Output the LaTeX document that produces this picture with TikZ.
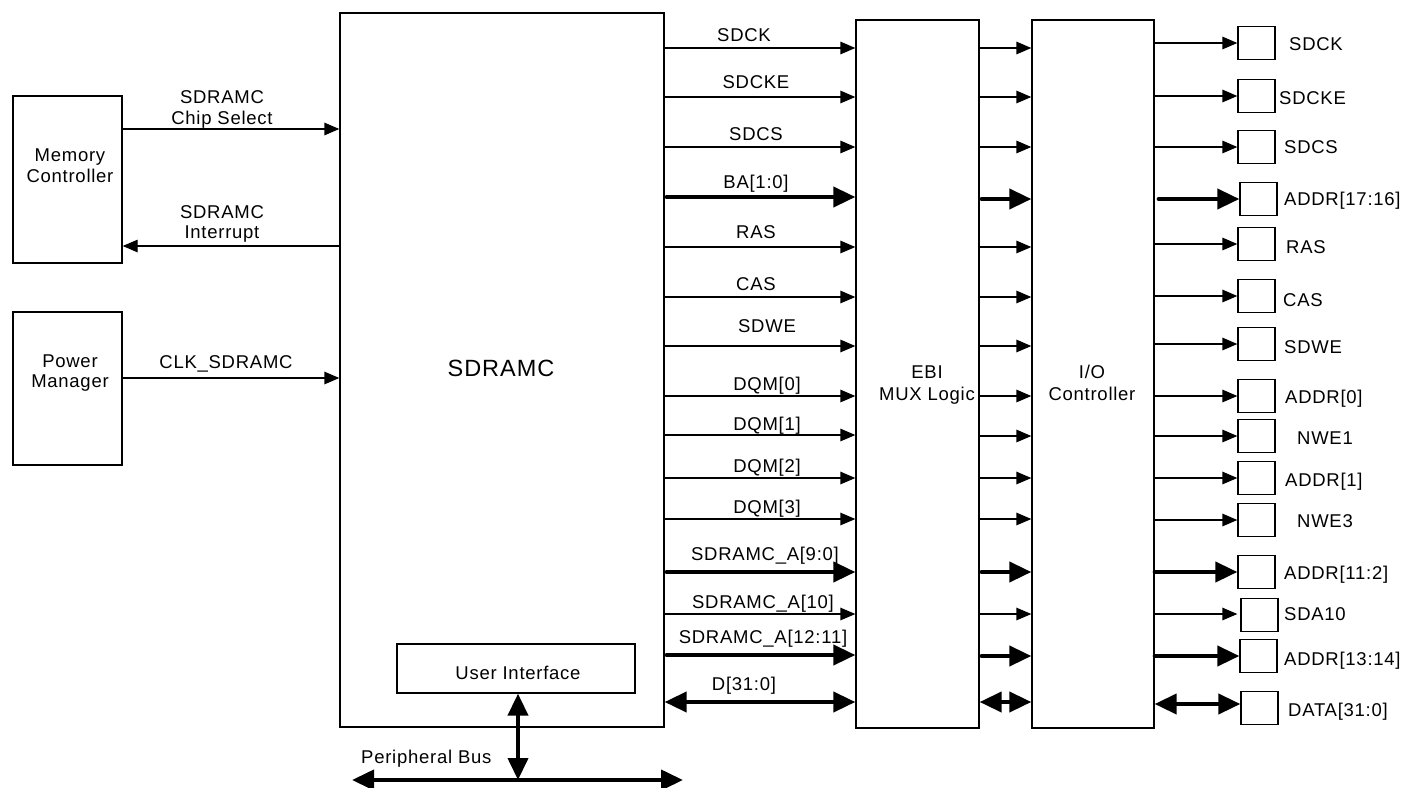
\documentclass[tikz,border=0pt]{standalone}
\usepackage{fontspec}
\setmainfont{Liberation Sans}[LetterSpace=4]
\usetikzlibrary{arrows.meta}
\begin{document}
\begin{tikzpicture}[x=1pt,y=-1pt,
  font=\fontsize{18.5}{20.5}\selectfont,
  box/.style={draw, line width=1.3pt, fill=white, inner sep=0pt},
  pinbox/.style={box, minimum width=37pt, minimum height=33pt},
  txt/.style={inner sep=0pt, anchor=base},
  txtl/.style={inner sep=0pt, anchor=base west},
  txtc/.style={inner sep=0pt, align=center},
  sig/.style={line width=1.3pt, -{Triangle[length=15pt,width=12.5pt]}},
  bus/.style={line width=4pt, line cap=round, -{Triangle[length=22pt,width=20pt]}},
  bibus/.style={line width=4pt, {Triangle[length=22pt,width=20pt]}-{Triangle[length=22pt,width=20pt]}}
]
\useasboundingbox (0,0) rectangle (1408,787);

% main blocks
\node[box, minimum width=109pt, minimum height=167pt] (mc) at (67.5,179.5) {};
\node[box, minimum width=109pt, minimum height=153pt] (pm) at (67.5,388.5) {};
\node[box, minimum width=324pt, minimum height=714pt] (sd) at (502,370) {};
\node[box, minimum width=238pt, minimum height=49pt] (ui) at (516,668.5) {};
\node[box, minimum width=123pt, minimum height=708pt] (ebi) at (917.5,374) {};
\node[box, minimum width=122pt, minimum height=708pt] (io) at (1093,374) {};

\node[txtc] (mct) at (70,165.5) {Memory\\Controller};
\node[txtc] (pmt) at (70,373) {Power\\Manager};
\node[txt, font=\fontsize{23.5}{26}\selectfont] (sdt) at (501,376) {SDRAMC};
\node[txt] (uit) at (518,679) {User Interface};
\node[txtc] (ebit) at (927,385) {EBI\\[2pt]MUX Logic};
\node[txtc] (iot) at (1092,383) {I/O\\[2pt]Controller};

% left connections
\draw[sig] (mc.east |- 0,129) -- (sd.west |- 0,129);
\draw[sig] (sd.west |- 0,246) -- (mc.east |- 0,246);
\draw[sig] (pm.east |- 0,378) -- (sd.west |- 0,378);
\node[txtc] (cst) at (222,109.5) {SDRAMC\\Chip Select};
\node[txtc] (irt) at (222,224) {SDRAMC\\Interrupt};
\node[txt] (clkt) at (226,368) {CLK\_SDRAMC};

% peripheral bus
\coordinate (busL) at (352,780);
\coordinate (busR) at (683,780);
\coordinate (busM) at (518,780);
\draw[bibus] (busL) -- (busR);
\draw[bibus] (busM |- ui.south) -- (busM);
\node[txtl] (pbt) at (361,763) {Peripheral Bus};

% SDRAMC -> EBI
\foreach \y in {48,97,147,247,297,346,396,435,478,519,614}
  \draw[sig] (sd.east |- 0,\y) -- (ebi.west |- 0,\y);
\foreach \y in {197,572,655}
  \draw[bus] ([xshift=2pt]sd.east |- 0,\y) -- (ebi.west |- 0,\y);
\draw[bibus] (sd.east |- 0,702) -- (ebi.west |- 0,702);

\node[txt] (l1) at (744,41) {SDCK};
\node[txt] (l2) at (756,88) {SDCKE};
\node[txt] (l3) at (756,140) {SDCS};
\node[txt] (l4) at (756,188) {BA[1:0]};
\node[txt] (l5) at (756,238) {RAS};
\node[txt] (l6) at (756,290) {CAS};
\node[txt] (l7) at (767,332) {SDWE};
\node[txt] (l8) at (767,390) {DQM[0]};
\node[txt] (l9) at (767,430) {DQM[1]};
\node[txt] (l10) at (767,472) {DQM[2]};
\node[txt] (l11) at (767,513) {DQM[3]};
\node[txt] (l12) at (765,560) {SDRAMC\_A[9:0]};
\node[txt] (l13) at (763,608) {SDRAMC\_A[10]};
\node[txt] (l14) at (763,643) {SDRAMC\_A[12:11]};
\node[txt] (l15) at (744,690) {D[31:0]};

% EBI -> IO
\foreach \y in {48,97,147,247,297,346,396,436,478,519,614}
  \draw[sig] (ebi.east |- 0,\y) -- (io.west |- 0,\y);
\foreach \y in {199,572,656}
  \draw[bus] ([xshift=2pt]ebi.east |- 0,\y) -- (io.west |- 0,\y);
\draw[bibus] (ebi.east |- 0,702) -- (io.west |- 0,702);

% pins
\node[pinbox] (p1) at (1256.5,43) {};
\node[pinbox] (p2) at (1256.5,96) {};
\node[pinbox] (p3) at (1256.5,147) {};
\node[pinbox] (p4) at (1258.5,199) {};
\node[pinbox] (p5) at (1256.5,244) {};
\node[pinbox] (p6) at (1256.5,296) {};
\node[pinbox] (p7) at (1256.5,344) {};
\node[pinbox] (p8) at (1256.5,396) {};
\node[pinbox] (p9) at (1256.5,436) {};
\node[pinbox] (p10) at (1256.5,478) {};
\node[pinbox] (p11) at (1256.5,520) {};
\node[pinbox] (p12) at (1256.5,572) {};
\node[pinbox] (p13) at (1259.5,615) {};
\node[pinbox] (p14) at (1258.5,656) {};
\node[pinbox] (p15) at (1259.5,708) {};

\foreach \p in {p1,p2,p3,p5,p6,p7,p8,p9,p10,p11}
  \draw[sig] (io.east |- \p.west) -- (\p.west);
\draw[sig] (io.east |- 0,614) -- ([xshift=-3pt]p13.west |- 0,614);
\draw[bus] ([xshift=4pt]io.east |- p4.west) -- (p4.west);
\draw[bus] (io.east |- p12.west) -- (p12.west);
\draw[bus] (io.east |- p14.west) -- (p14.west);
\draw[bibus] (io.east |- 0,704) -- (p15.west |- 0,704);

\node[txtl] (t1) at (1289,50) {SDCK};
\node[txtl] (t2) at (1279,104) {SDCKE};
\node[txtl] (t3) at (1284,153) {SDCS};
\node[txtl] (t4) at (1284,205) {ADDR[17:16]};
\node[txtl] (t5) at (1286,253) {RAS};
\node[txtl] (t6) at (1283,306) {CAS};
\node[txtl] (t7) at (1284,353) {SDWE};
\node[txtl] (t8) at (1285,403) {ADDR[0]};
\node[txtl] (t9) at (1297,444) {NWE1};
\node[txtl] (t10) at (1285,486) {ADDR[1]};
\node[txtl] (t11) at (1297,527) {NWE3};
\node[txtl] (t12) at (1284,579) {ADDR[11:2]};
\node[txtl] (t13) at (1284,620) {SDA10};
\node[txtl] (t14) at (1284,665) {ADDR[13:14]};
\node[txtl] (t15) at (1288,716) {DATA[31:0]};
\end{tikzpicture}
\end{document}
